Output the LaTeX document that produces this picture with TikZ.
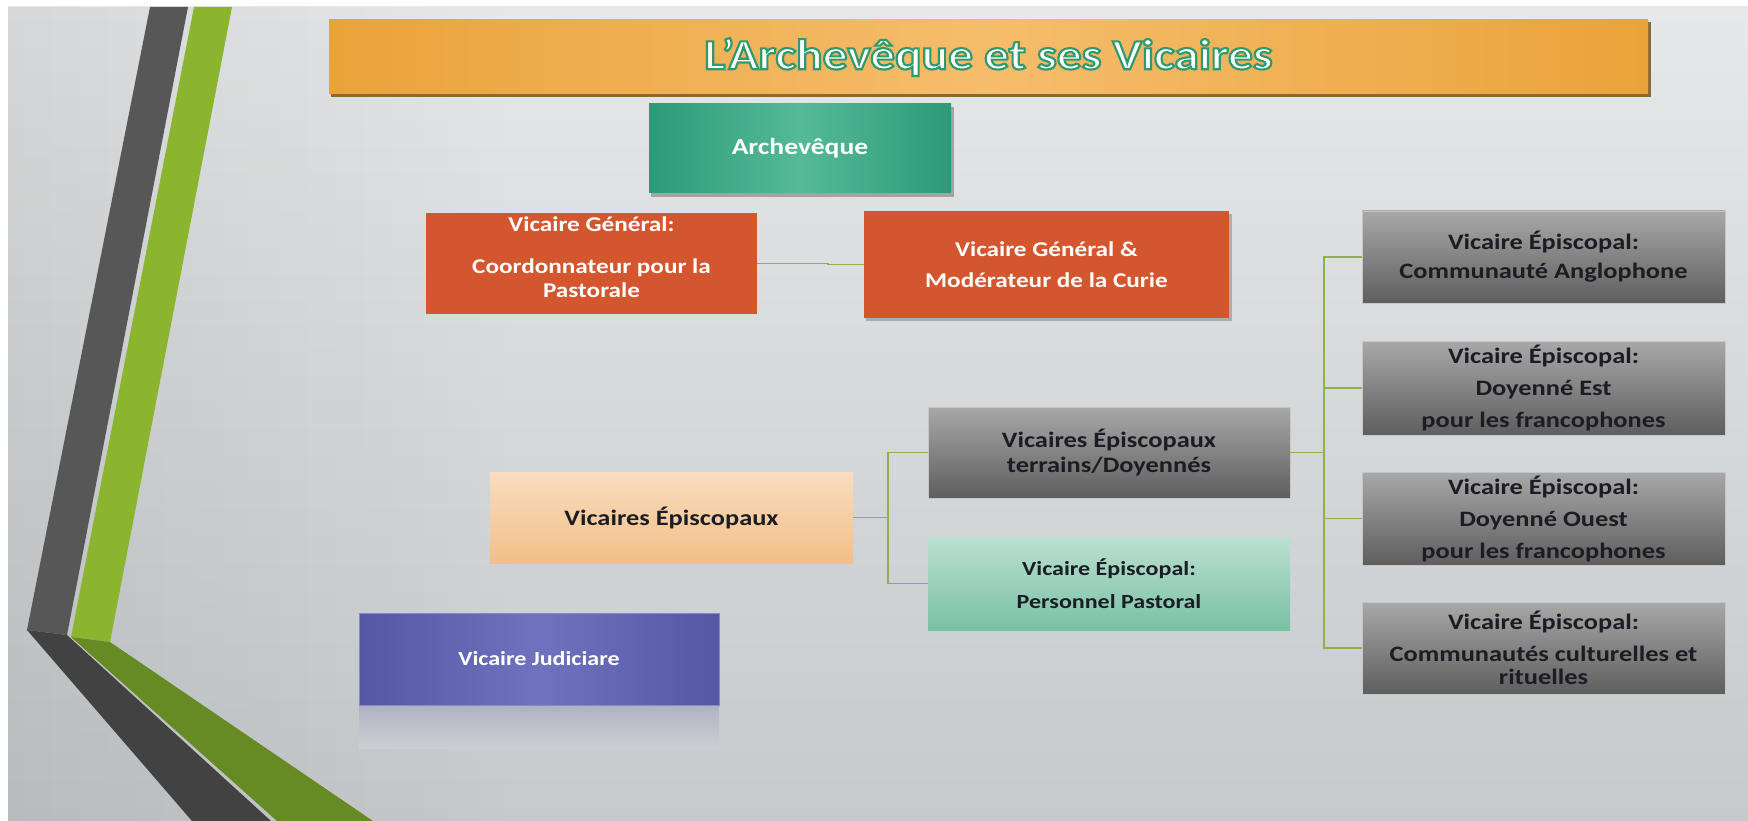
\documentclass[tikz,border=0pt]{standalone}
\usepackage{fontspec}
\setmainfont{Carlito}[FakeStretch=1.2]
\newfontfamily\titlefont{Carlito Bold}[FakeStretch=1.15, FakeBold=5]
\usepackage{tikz}
\usetikzlibrary{positioning,fadings}
\usepackage{xcolor}
\definecolor{bgtop}{RGB}{230,232,233}
\definecolor{bgmid}{RGB}{224,226,227}
\definecolor{bgbot}{RGB}{198,202,204}
\definecolor{stripedark}{RGB}{87,87,87}
\definecolor{stripedarkleg}{RGB}{66,66,66}
\definecolor{stripegreen}{RGB}{140,181,47}
\definecolor{stripegreenleg}{RGB}{103,139,36}
\definecolor{titleedge}{RGB}{234,163,58}
\definecolor{titlemid}{RGB}{246,189,108}
\definecolor{titleshadow}{RGB}{140,105,52}
\definecolor{tealedge}{RGB}{45,154,119}
\definecolor{tealmid}{RGB}{84,186,152}
\definecolor{vgred}{RGB}{212,86,46}
\definecolor{peachtop}{RGB}{249,221,191}
\definecolor{peachbot}{RGB}{242,191,136}
\definecolor{graytop}{RGB}{168,168,168}
\definecolor{graybot}{RGB}{94,94,94}
\definecolor{minttop}{RGB}{187,224,207}
\definecolor{mintbot}{RGB}{121,193,164}
\definecolor{judedge}{RGB}{85,87,165}
\definecolor{judmid}{RGB}{112,114,190}
\definecolor{linkgreen}{RGB}{143,176,74}
\definecolor{textdark}{RGB}{28,28,36}
% green stroke round the white title letters
\newcommand{\greenstroke}{\special{pdf:code 0.180 0.604 0.431 RG}}
\tikzstyle{box} = [rectangle, minimum width=363, minimum height=92, align=center, inner sep=0pt, font=\bfseries\fontsize{22}{23}\selectfont]
\tikzstyle{titletext} = [inner sep=0pt, text=white, font=\titlefont\fontsize{43}{43}\selectfont]
\tikzstyle{vgbox} = [box, fill=vgred, text=white, font=\bfseries\fontsize{21}{24}\selectfont]
\tikzstyle{graybox} = [box, top color=graytop, bottom color=graybot, draw=gray!45, text=textdark]
\tikzstyle{link} = [draw=linkgreen, line width=1.8pt]

\begin{document}
\begin{tikzpicture}[x=1pt, y=-1pt]
\useasboundingbox (0,0) rectangle (1748,821);
% Background
\fill[white] (0,0) rectangle (1748,821);
\shade[top color=bgtop, middle color=bgmid, bottom color=bgbot] (8,7) rectangle (1748,821);
\fill[black, opacity=0.07, path fading=east] (8,7) rectangle (520,821);

% Stripes on the left
\fill[stripedark] (150,7) -- (188,7) -- (67,635) -- (27,630) -- cycle;
\fill[stripedarkleg] (27,630) -- (67,635) -- (271,821) -- (192,821) -- cycle;
\fill[stripegreen] (194,7) -- (232,7) -- (110,642) -- (71,637) -- cycle;
\fill[stripegreenleg] (71,637) -- (110,642) -- (373,821) -- (277,821) -- cycle;

% Title
\fill[titleshadow] (331,22) rectangle (1651,97);
\node[rectangle, minimum width=1319, minimum height=74, left color=titleedge, right color=titleedge, middle color=titlemid] (title) at (988.5,57) {};
\node[titletext] (titlelabel) at (title) {\greenstroke L’Archevêque et ses Vicaires};

% Archeveque
\fill[black!60, opacity=0.5] (651,107) rectangle (954,197);
\node[box, minimum width=302, minimum height=89, left color=tealedge, right color=tealedge, middle color=tealmid, text=white, font=\bfseries\fontsize{23}{24}\selectfont] (arch) at (800,148.5) {Archevêque};

% Vicaires generaux
\node[vgbox, minimum width=331, minimum height=101, text depth=12pt] (vgc) at (591.5,263.5) {Vicaire Général:\\[18pt]Coordonnateur pour la\\Pastorale};
\fill[black!60, opacity=0.4] (866,214) rectangle (1232,321);
\node[vgbox, minimum width=365, minimum height=107] (vgm) at (1046.5,264.5) {Vicaire Général \&\\[7pt]Modérateur de la Curie};
\draw[link] (vgc.east) -- ++(71,0) |- (vgm.west);

% Vicaires episcopaux
\node[box, top color=peachtop, bottom color=peachbot, text=textdark, minimum height=91] (vep) at (671.5,517.5) {Vicaires Épiscopaux};
\node[graybox, minimum width=362, minimum height=91, font=\bfseries\fontsize{22}{25}\selectfont] (vet) at (1109,452.5) {Vicaires Épiscopaux\\terrains/Doyennés};
\node[box, top color=minttop, bottom color=mintbot, text=textdark, minimum width=362, minimum height=93, font=\bfseries\fontsize{20}{22}\selectfont] (vpp) at (1109,583.5) {Vicaire Épiscopal:\\[11pt]Personnel Pastoral};
\draw[link] (vep.east) -- ++(35,0) coordinate (lhub);
\draw[link] (lhub) |- (vet.west);
\draw[link] (lhub) |- (vpp.west);

% Vicaires episcopaux, right column
\node[graybox] (ve1) at (1543.5,257) {Vicaire Épiscopal:\\[6pt]Communauté Anglophone};
\node[graybox, minimum height=94] (ve2) at (1543.5,388) {Vicaire Épiscopal:\\[9pt]Doyenné Est\\[9pt]pour les francophones};
\node[graybox, minimum height=93] (ve3) at (1543.5,518.5) {Vicaire Épiscopal:\\[9pt]Doyenné Ouest\\[9pt]pour les francophones};
\node[graybox] (ve4) at (1543.5,648) {Vicaire Épiscopal:\\[9pt]Communautés culturelles et\\rituelles};
\draw[link] (vet.east) -- ++(34,0) coordinate (rhub);
\foreach \n in {ve1,ve2,ve3,ve4}
  \draw[link] (rhub) |- (\n.west);

% Vicaire judiciaire
\shade[top color={rgb,255:red,176;green,178;blue,196}, bottom color={rgb,255:red,204;green,207;blue,209}] (359,706) rectangle (719,748);
\node[box, minimum width=360, left color=judedge, right color=judedge, middle color=judmid, draw=judedge!70!white, text=white, font=\bfseries\fontsize{20}{22}\selectfont] (vju) at (539,659) {Vicaire Judiciare};
\end{tikzpicture}
\end{document}
